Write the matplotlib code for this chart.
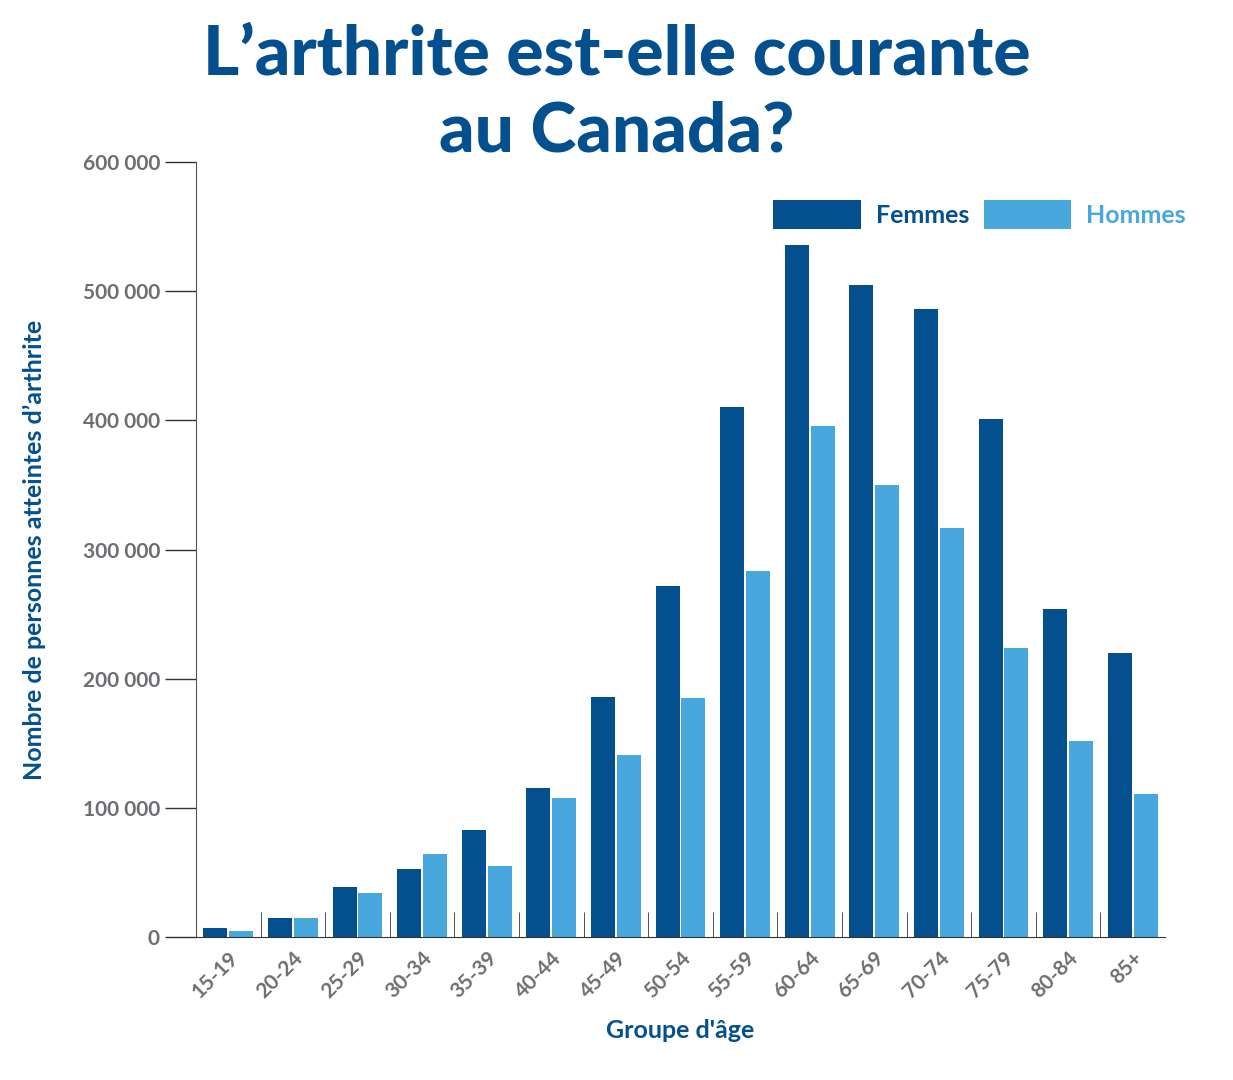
import matplotlib
matplotlib.use("Agg")
import matplotlib.pyplot as plt
import numpy as np

categories = ["15-19","20-24","25-29","30-34","35-39","40-44","45-49","50-54","55-59","60-64","65-69","70-74","75-79","80-84","85+"]
femmes = [7000,15000,38700,53000,83000,115000,186000,272000,410000,536000,505000,486000,401000,254000,220000]
hommes = [4600,14700,34000,64000,55000,108000,141000,185000,283000,396000,350000,317000,224000,152000,111000]
yticks = [0,100000,200000,300000,400000,500000,600000]
ylabels = ["0","100 000","200 000","300 000","400 000","500 000","600 000"]

dark = "#04508f"; light = "#48a7dd"; grey = "#6d6e71"
W, H = 1233, 1080
fig = plt.figure(figsize=(W/100, H/100), dpi=100)
ax = fig.add_axes([196/W, 1-937/H, (1165-196)/W, (937-162)/H])
x = np.arange(len(categories))
bw = 0.37
ax.bar(x-0.2, femmes, bw, color=dark, label="Femmes")
ax.bar(x+0.2, hommes, bw, color=light, label="Hommes")
ax.set_xlim(-0.5, len(categories)-0.5)
ax.set_ylim(0, 600000)
ax.set_yticks(yticks)
ax.set_yticklabels(ylabels, fontsize=15, color=grey, fontweight="bold", family="Lato")
ax.tick_params(axis="y", length=22, width=1, color="#333333", pad=4)
for s in ["top","right"]:
    ax.spines[s].set_visible(False)
ax.spines["left"].set_color("#555555")
ax.spines["bottom"].set_color("#333333")
ax.set_xticks(x)
ax.set_xticklabels(categories, rotation=45, ha="right", rotation_mode="anchor", fontsize=15, color=grey, fontweight="bold", family="Lato")
ax.tick_params(axis="x", length=0, pad=8)
ax.set_xticks(np.arange(0.5, len(categories)-0.5, 1), minor=True)
ax.tick_params(axis="x", which="minor", direction="in", length=18, color="#333333")
ax.set_xlabel("Groupe d'âge", fontsize=18, color=dark, fontweight="bold", family="Lato", labelpad=12)
ax.set_ylabel("Nombre de personnes atteintes d’arthrite", fontsize=18, color=dark, fontweight="bold", family="Lato", labelpad=30)
ax.yaxis.set_label_coords(-0.155, 0.5)
leg = ax.legend(loc="upper right", bbox_to_anchor=(1.045, 0.98), ncol=2, frameon=False, fontsize=18,
                handlelength=3.5, handleheight=1.4, columnspacing=0.6, handletextpad=0.6,
                prop={"family":"Lato","weight":"bold","size":18})
leg.get_texts()[0].set_color(dark)
leg.get_texts()[1].set_color(light)
fig.text(0.5, 1-55/H, "L’arthrite est-elle courante", ha="center", va="center", fontsize=50, color=dark, fontweight="heavy", family="Lato")
fig.text(0.5, 1-132/H, "au Canada?", ha="center", va="center", fontsize=50, color=dark, fontweight="heavy", family="Lato")
fig.savefig("out.png", dpi=100)
